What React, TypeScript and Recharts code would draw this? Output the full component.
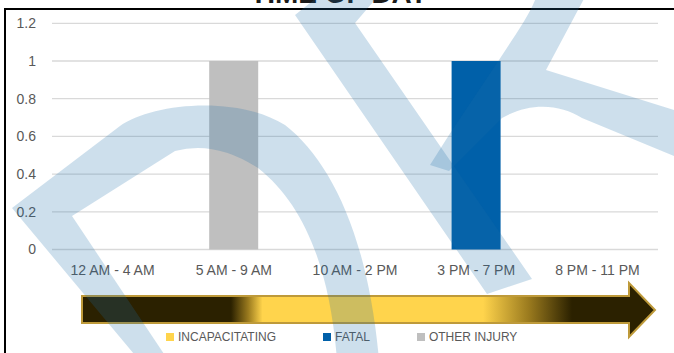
import { Bar, BarChart, CartesianGrid, Legend, XAxis, YAxis } from "recharts"

const categories = ["12 AM - 4 AM", "5 AM - 9 AM", "10 AM - 2 PM", "3 PM - 7 PM", "8 PM - 11 PM"]
const incapacitating = [0, 0, 0, 0, 0]
const fatal = [0, 0, 0, 1, 0]
const otherInjury = [0, 1, 0, 0, 0]
const yTicks = [0, 0.2, 0.4, 0.6, 0.8, 1, 1.2]

const seriesNames = ["INCAPACITATING", "FATAL", "OTHER INJURY"]
const seriesColors = ["#FFD44C", "#0060A9", "#BFBFBF"]

const data = categories.map((name, i) => ({
  name,
  incapacitating: incapacitating[i],
  fatal: fatal[i],
  otherInjury: otherInjury[i],
}))

const FONT = "'Liberation Sans', Arial, sans-serif"

function renderLegend(props: any) {
  const items = [...(props.payload ?? [])].sort(
    (a: any, b: any) => seriesNames.indexOf(a.value) - seriesNames.indexOf(b.value)
  )
  return (
    <div style={{ display: "flex", alignItems: "center", fontFamily: FONT, fontSize: 12, color: "#595959", lineHeight: "14px" }}>
      {items.map((it: any) => (
        <div key={it.value} style={{ display: "flex", alignItems: "center", marginRight: 47 }}>
          <span style={{ width: 8, height: 8, background: it.color, marginRight: 4, display: "inline-block" }} />
          <span>{it.value}</span>
        </div>
      ))}
    </div>
  )
}

// timeline arrow under the axis (decoration)
function TimeArrow() {
  return (
    <svg width={674} height={353} style={{ position: "absolute", left: 0, top: 0 }}>
      <defs>
        <linearGradient id="arrowFill" gradientUnits="userSpaceOnUse" x1={82} x2={655} y1={0} y2={0}>
          <stop offset="0" stopColor="#2B2100" />
          <stop offset="0.26" stopColor="#2B2100" />
          <stop offset="0.29" stopColor="#9A7A1E" />
          <stop offset="0.315" stopColor="#FFD44C" />
          <stop offset="0.7" stopColor="#FFD44C" />
          <stop offset="0.78" stopColor="#9A7A1E" />
          <stop offset="0.855" stopColor="#2B2100" />
          <stop offset="1" stopColor="#2B2100" />
        </linearGradient>
      </defs>
      <path
        d="M 82 296 L 629 296 L 629 283 L 655 310 L 629 337 L 629 323 L 82 323 Z"
        fill="url(#arrowFill)"
        stroke="#BE9A3A"
        strokeWidth={2}
      />
    </svg>
  )
}

// light blue logo watermark laid over the whole picture
function Watermark() {
  const fill = "rgba(28, 110, 168, 0.22)"
  return (
    <svg width={674} height={353} style={{ position: "absolute", left: 0, top: 0, pointerEvents: "none" }}>
      <path
        fill={fill}
        d="M 139 360 L 12 208 L 120 126 C 150 104, 235 94, 285 125 C 330 160, 368 235, 379 360 L 337 360 C 330 270, 305 205, 258 168 Q 215 140, 175 151 L 72 216 L 168 360 Z"
      />
      <path fill={fill} d="M 295 15 L 320 -5 L 379 -5 L 355 23 L 532 279 L 487 294 Z" />
      <path
        fill={fill}
        d="M 430 165 L 449 135 L 499 60 C 515 35, 530 15, 537 -5 L 586 -5 L 546 70 L 674 110 L 680 112 L 680 160 L 674 156 L 582 118 C 560 104, 530 102, 502 118 L 449 171 Z"
      />
    </svg>
  )
}

export default function App() {
  return (
    <div style={{ position: "fixed", left: 0, top: 0, width: 674, height: 353, overflow: "hidden", background: "#fff" }}>
      <div
        style={{
          position: "absolute",
          left: 4,
          top: 8,
          width: 700,
          height: 400,
          borderLeft: "2px solid #000",
          borderTop: "2px solid #000",
        }}
      />
      <svg width={674} height={20} style={{ position: "absolute", left: 0, top: 0 }}>
        <text x={339} y={3} textAnchor="middle" fontFamily={FONT} fontWeight="bold" fontSize={28} fill="#1A1A1A">
          TIME OF DAY
        </text>
      </svg>
      <div style={{ position: "absolute", left: 0, top: 0 }}>
        <BarChart width={674} height={353} data={data} margin={{ top: 23.3, right: 16, left: 0, bottom: 73.5 }}>
          <CartesianGrid vertical={false} stroke="#D9D9D9" strokeWidth={1.3} />
          <XAxis
            dataKey="name"
            axisLine={false}
            tickLine={false}
            tickSize={6}
            tickMargin={10}
            interval={0}
            tick={{ fill: "#595959", fontSize: 14, fontFamily: FONT }}
          />
          <YAxis
            domain={[0, 1.2]}
            ticks={yTicks}
            width={52}
            axisLine={false}
            tickLine={false}
            tickSize={6}
            tickMargin={10}
            tick={{ fill: "#595959", fontSize: 14, fontFamily: FONT }}
          />
          <Legend
            layout="horizontal"
            verticalAlign="middle"
            align="center"
            content={renderLegend}
            wrapperStyle={{ left: 166, top: 330, width: 440, height: 14 }}
          />
          <Bar dataKey="incapacitating" name={seriesNames[0]} stackId="a" fill={seriesColors[0]} barSize={49} isAnimationActive={false} />
          <Bar dataKey="fatal" name={seriesNames[1]} stackId="a" fill={seriesColors[1]} barSize={49} isAnimationActive={false} />
          <Bar dataKey="otherInjury" name={seriesNames[2]} stackId="a" fill={seriesColors[2]} barSize={49} isAnimationActive={false} />
        </BarChart>
      </div>
      <TimeArrow />
      <Watermark />
    </div>
  )
}
